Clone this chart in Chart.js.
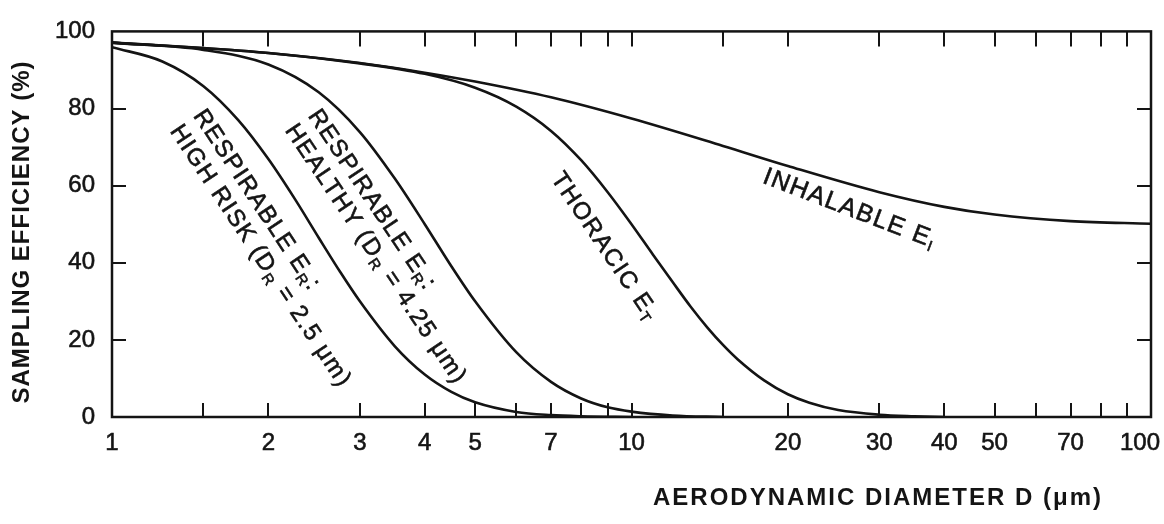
<!DOCTYPE html>
<html>
<head>
<meta charset="utf-8">
<script src="https://cdn.jsdelivr.net/npm/chart.js@4.4.1/dist/chart.umd.min.js"></script>
<style>
  html, body { margin: 0; padding: 0; background: #fff; }
  #wrap { width: 1164px; height: 524px; position: relative; }
</style>
</head>
<body>
<div id="wrap"><canvas id="chart"></canvas></div>
<script>
// aerodynamic diameter (um) / sampling efficiency (%)
const inhalableD = [1, 1.5, 2, 3, 4, 5, 7, 10, 15, 20, 30, 40, 50, 70, 100];
const inhalableE = [97.1, 95.7, 94.4, 91.8, 89.3, 87.0, 82.9, 77.4, 70.3, 65.1, 58.3, 54.5, 52.5, 50.8, 50.1];

const thoracicD = [1, 2, 3, 4, 5, 6, 7, 8, 9, 10, 11, 12, 13, 14, 15, 16, 18, 20, 22, 25, 30, 35, 40];
const thoracicE = [97.1, 94.4, 91.7, 89.0, 85.4, 80.5, 74.2, 66.6, 58.3, 50.0, 42.1, 35.0, 28.6, 23.2, 18.7, 15.0, 9.5, 5.9, 3.7, 1.8, 0.6, 0.2, 0];

const healthyD = [1, 1.5, 2, 2.5, 3, 3.5, 4, 4.5, 5, 6, 7, 8, 9, 10, 12, 15];
const healthyE = [97.1, 95.2, 91.4, 84.2, 73.9, 61.9, 50.0, 39.1, 30.0, 16.8, 9.1, 4.8, 2.5, 1.4, 0.4, 0];

const highRiskD = [1, 1.25, 1.5, 1.75, 2, 2.25, 2.5, 2.75, 3, 3.5, 4, 4.5, 5, 6, 7, 8, 10];
const highRiskE = [95.9, 92.2, 85.8, 77.0, 66.9, 56.5, 46.5, 37.6, 30.0, 18.4, 11.0, 6.5, 3.8, 1.3, 0.5, 0.2, 0];

// axis ticks
const xTickValues = [1, 1.5, 2, 3, 4, 5, 6, 7, 8, 9, 10, 15, 20, 30, 40, 50, 60, 70, 80, 90, 100];
const xLabeled = [1, 2, 3, 4, 5, 7, 10, 20, 30, 40, 50, 70, 100];
const yTickValues = [0, 20, 40, 60, 80, 100];

const FONT = '"Liberation Sans", Arial, Helvetica, sans-serif';
const INK = '#141414';

// curve labels, anchored in data coordinates (left end, middle of line)
const curveLabels = [
  { x: 1.466, y: 79.1, angle: 56.5, size: 24, parts: [['RESPIRABLE E'], ['R', 1], [':']] },
  { x: 1.322, y: 75.1, angle: 56.5, size: 24, parts: [['HIGH RISK (D'], ['R', 1], [' = 2.5 \u03bcm)']] },
  { x: 2.437, y: 79.1, angle: 56.2, size: 24, parts: [['RESPIRABLE E'], ['R', 1], [':']] },
  { x: 2.201, y: 75.3, angle: 56.2, size: 24, parts: [['HEALTHY (D'], ['R', 1], [' = 4.25 \u03bcm)']] },
  { x: 7.157, y: 62.8, angle: 56, size: 24, parts: [['THORACIC E'], ['T', 1]] },
  { x: 17.99, y: 62.5, angle: 21, size: 25, parts: [['INHALABLE E'], ['I', 1]] }
];

function toPoints(xs, ys) {
  return xs.map((v, i) => ({ x: v, y: ys[i] }));
}

function drawRun(ctx, l, x, y) {
  ctx.save();
  ctx.translate(x, y);
  ctx.rotate(l.angle * Math.PI / 180);
  ctx.textBaseline = 'middle';
  ctx.textAlign = 'left';
  ctx.letterSpacing = '1.5px';
  ctx.lineWidth = 0.6;
  ctx.strokeStyle = INK;
  let cx = 0;
  l.parts.forEach(p => {
    const sub = p[1] === 1;
    ctx.font = (sub ? '15px ' : l.size + 'px ') + FONT;
    ctx.fillText(p[0], cx, sub ? 7 : 0);
    ctx.strokeText(p[0], cx, sub ? 7 : 0);
    cx += ctx.measureText(p[0]).width;
  });
  ctx.restore();
}

const framePlugin = {
  id: 'frame',
  beforeDraw(chart) {
    // nudge the last x label inside the canvas like in the figure
    chart.scales.x.getLabelItems().forEach(it => {
      if (it.label === '100' && !it._moved) {
        it.options.translation[0] -= 11;
        it._moved = true;
      }
    });
  },
  afterDraw(chart) {
    const { ctx, chartArea: a, scales: { x, y } } = chart;
    ctx.save();
    ctx.strokeStyle = INK;
    ctx.lineWidth = 2.5;
    ctx.strokeRect(a.left, a.top, a.right - a.left, a.bottom - a.top);

    ctx.lineWidth = 2;
    ctx.beginPath();
    xTickValues.slice(1, -1).forEach(v => {
      const px = Math.round(x.getPixelForValue(v));
      ctx.moveTo(px, a.bottom); ctx.lineTo(px, a.bottom - 14);
      ctx.moveTo(px, a.top); ctx.lineTo(px, a.top + 15);
    });
    yTickValues.slice(1, -1).forEach(v => {
      const py = Math.round(y.getPixelForValue(v));
      ctx.moveTo(a.left, py); ctx.lineTo(a.left + 14, py);
      ctx.moveTo(a.right, py); ctx.lineTo(a.right - 14, py);
    });
    ctx.stroke();

    ctx.fillStyle = INK;
    curveLabels.forEach(l => {
      drawRun(ctx, l, x.getPixelForValue(l.x), y.getPixelForValue(l.y));
    });

    // axis titles
    ctx.font = 'bold 24px ' + FONT;
    ctx.letterSpacing = '1px';
    ctx.textAlign = 'center';
    ctx.textBaseline = 'middle';
    ctx.save();
    ctx.translate(22, 232);
    ctx.rotate(-Math.PI / 2);
    ctx.fillText('SAMPLING EFFICIENCY (%)', 0, 0);
    ctx.restore();
    ctx.letterSpacing = '2px';
    ctx.fillText('AERODYNAMIC DIAMETER D (\u03bcm)', 878, 498);
    ctx.restore();
  }
};

const lineStyle = {
  borderColor: INK,
  borderWidth: 2.6,
  pointRadius: 0,
  fill: false,
  cubicInterpolationMode: 'monotone'
};

const tickFont = { family: FONT, size: 24 };

new Chart(document.getElementById('chart'), {
  type: 'line',
  data: {
    datasets: [
      { label: 'Inhalable', data: toPoints(inhalableD, inhalableE), ...lineStyle },
      { label: 'Thoracic', data: toPoints(thoracicD, thoracicE), ...lineStyle },
      { label: 'Respirable healthy', data: toPoints(healthyD, healthyE), ...lineStyle },
      { label: 'Respirable high risk', data: toPoints(highRiskD, highRiskE), ...lineStyle }
    ]
  },
  options: {
    responsive: true,
    maintainAspectRatio: false,
    animation: false,
    layout: { padding: { top: 14, right: 13, left: 0, bottom: 0 } },
    plugins: { legend: { display: false }, tooltip: { enabled: false } },
    scales: {
      x: {
        type: 'logarithmic',
        min: 1,
        max: 100,
        afterBuildTicks: scale => { scale.ticks = xTickValues.map(v => ({ value: v })); },
        afterFit: scale => { scale.height = 107; scale.paddingLeft = 0; scale.paddingRight = 0; },
        grid: { display: false, drawTicks: false },
        border: { display: false },
        ticks: {
          autoSkip: false,
          maxRotation: 0,
          padding: 12,
          color: INK,
          textStrokeColor: INK,
          textStrokeWidth: 0.6,
          font: tickFont,
          callback: v => xLabeled.includes(v) ? String(v) : ''
        }
      },
      y: {
        min: 0,
        max: 100,
        afterBuildTicks: scale => { scale.ticks = yTickValues.map(v => ({ value: v })); },
        afterFit: scale => { scale.width = 112; },
        grid: { display: false, drawTicks: false },
        border: { display: false },
        ticks: {
          padding: 17,
          color: INK,
          textStrokeColor: INK,
          textStrokeWidth: 0.6,
          font: tickFont
        }
      }
    }
  },
  plugins: [framePlugin]
});
</script>
</body>
</html>
